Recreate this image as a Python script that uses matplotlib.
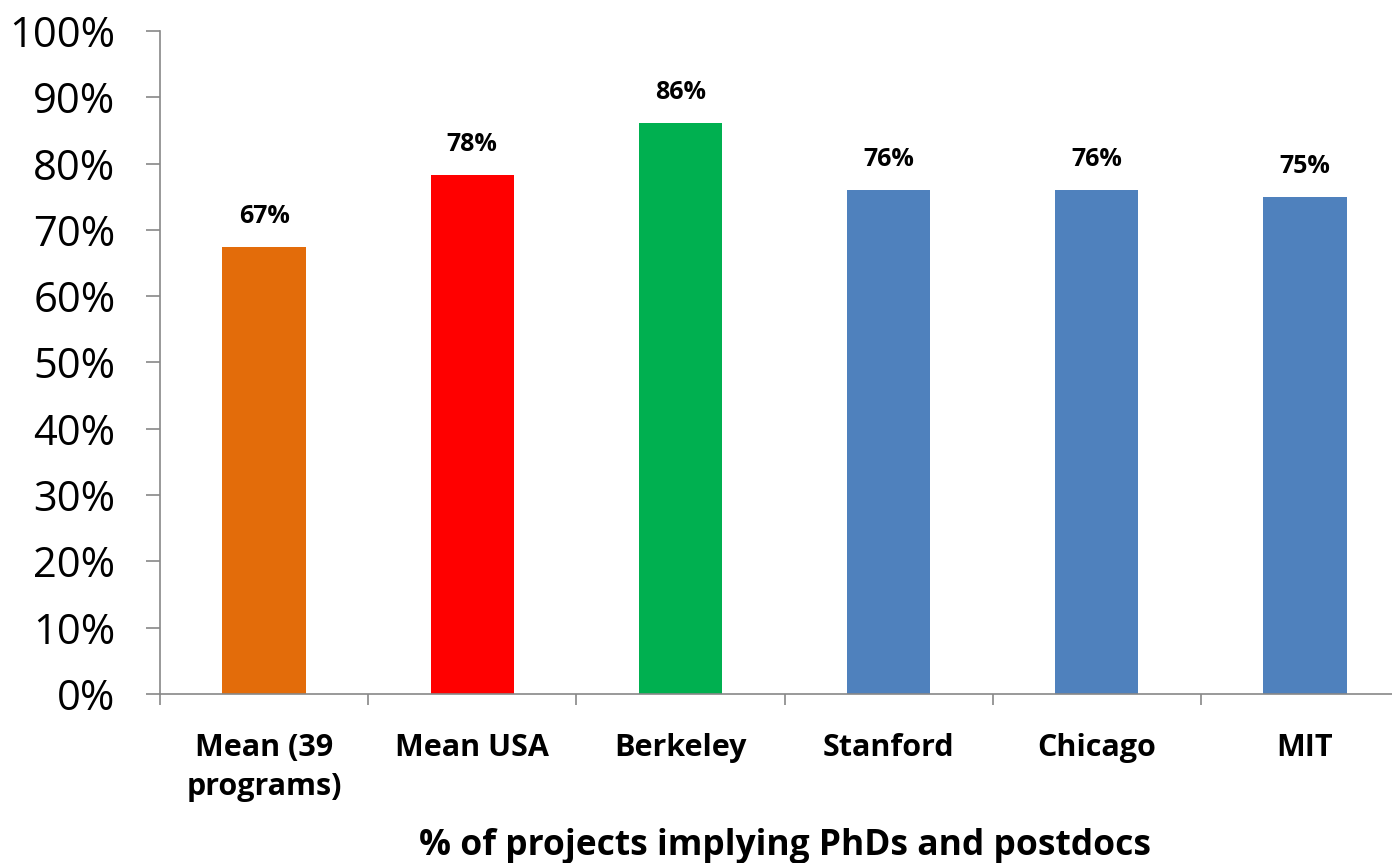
import matplotlib
matplotlib.use("Agg")
import matplotlib.pyplot as plt
import numpy as np
from matplotlib.ticker import FixedLocator, PercentFormatter

categories = ["Mean (39\nprograms)", "Mean USA", "Berkeley", "Stanford", "Chicago", "MIT"]
values = [0.674, 0.783, 0.861, 0.760, 0.760, 0.750]
value_labels = ["67%", "78%", "86%", "76%", "76%", "75%"]
colors = ["#E36C0A", "#FF0000", "#00B050", "#4F81BD", "#4F81BD", "#4F81BD"]
xlabel = "% of projects implying PhDs and postdocs"

plt.rcParams["font.family"] = ["Open Sans", "DejaVu Sans"]

W, H = 1392, 863
fig = plt.figure(figsize=(W / 100, H / 100), dpi=100)
ax = fig.add_axes([160 / W, (H - 694) / H, 1249 / W, 663 / H])

x = np.arange(len(categories))
ax.bar(x, values, width=0.40, color=colors, zorder=2)

# value labels above bars
for xi, v, lab in zip(x, values, value_labels):
    ax.annotate(lab, (xi, v), xytext=(0, 13), textcoords="offset points",
                ha="center", va="bottom", fontsize=18, fontweight="bold")

ax.set_xlim(-0.5, len(categories) - 0.5)
ax.set_ylim(0, 1)
ax.set_yticks(np.arange(0, 1.01, 0.1))
ax.yaxis.set_major_formatter(PercentFormatter(1.0, decimals=0))
ax.tick_params(axis="y", labelsize=30, length=10, width=1.2, color="#888888", pad=22)

ax.set_xticks(x)
ax.set_xticklabels(categories, fontsize=22, fontweight="bold", linespacing=1.4)
ax.xaxis.set_minor_locator(FixedLocator(np.arange(-0.5, len(categories), 1.0)))
ax.tick_params(axis="x", which="major", length=0, pad=28)
ax.tick_params(axis="x", which="minor", length=8, width=1.2, color="#888888")

for s in ["top", "right"]:
    ax.spines[s].set_visible(False)
for s in ["left", "bottom"]:
    ax.spines[s].set_color("#888888")
    ax.spines[s].set_linewidth(1.2)

fig.text(785 / W, 8 / H, xlabel, ha="center", va="baseline",
         fontsize=25.5, fontweight="bold")

fig.savefig("out.png", dpi=100)
